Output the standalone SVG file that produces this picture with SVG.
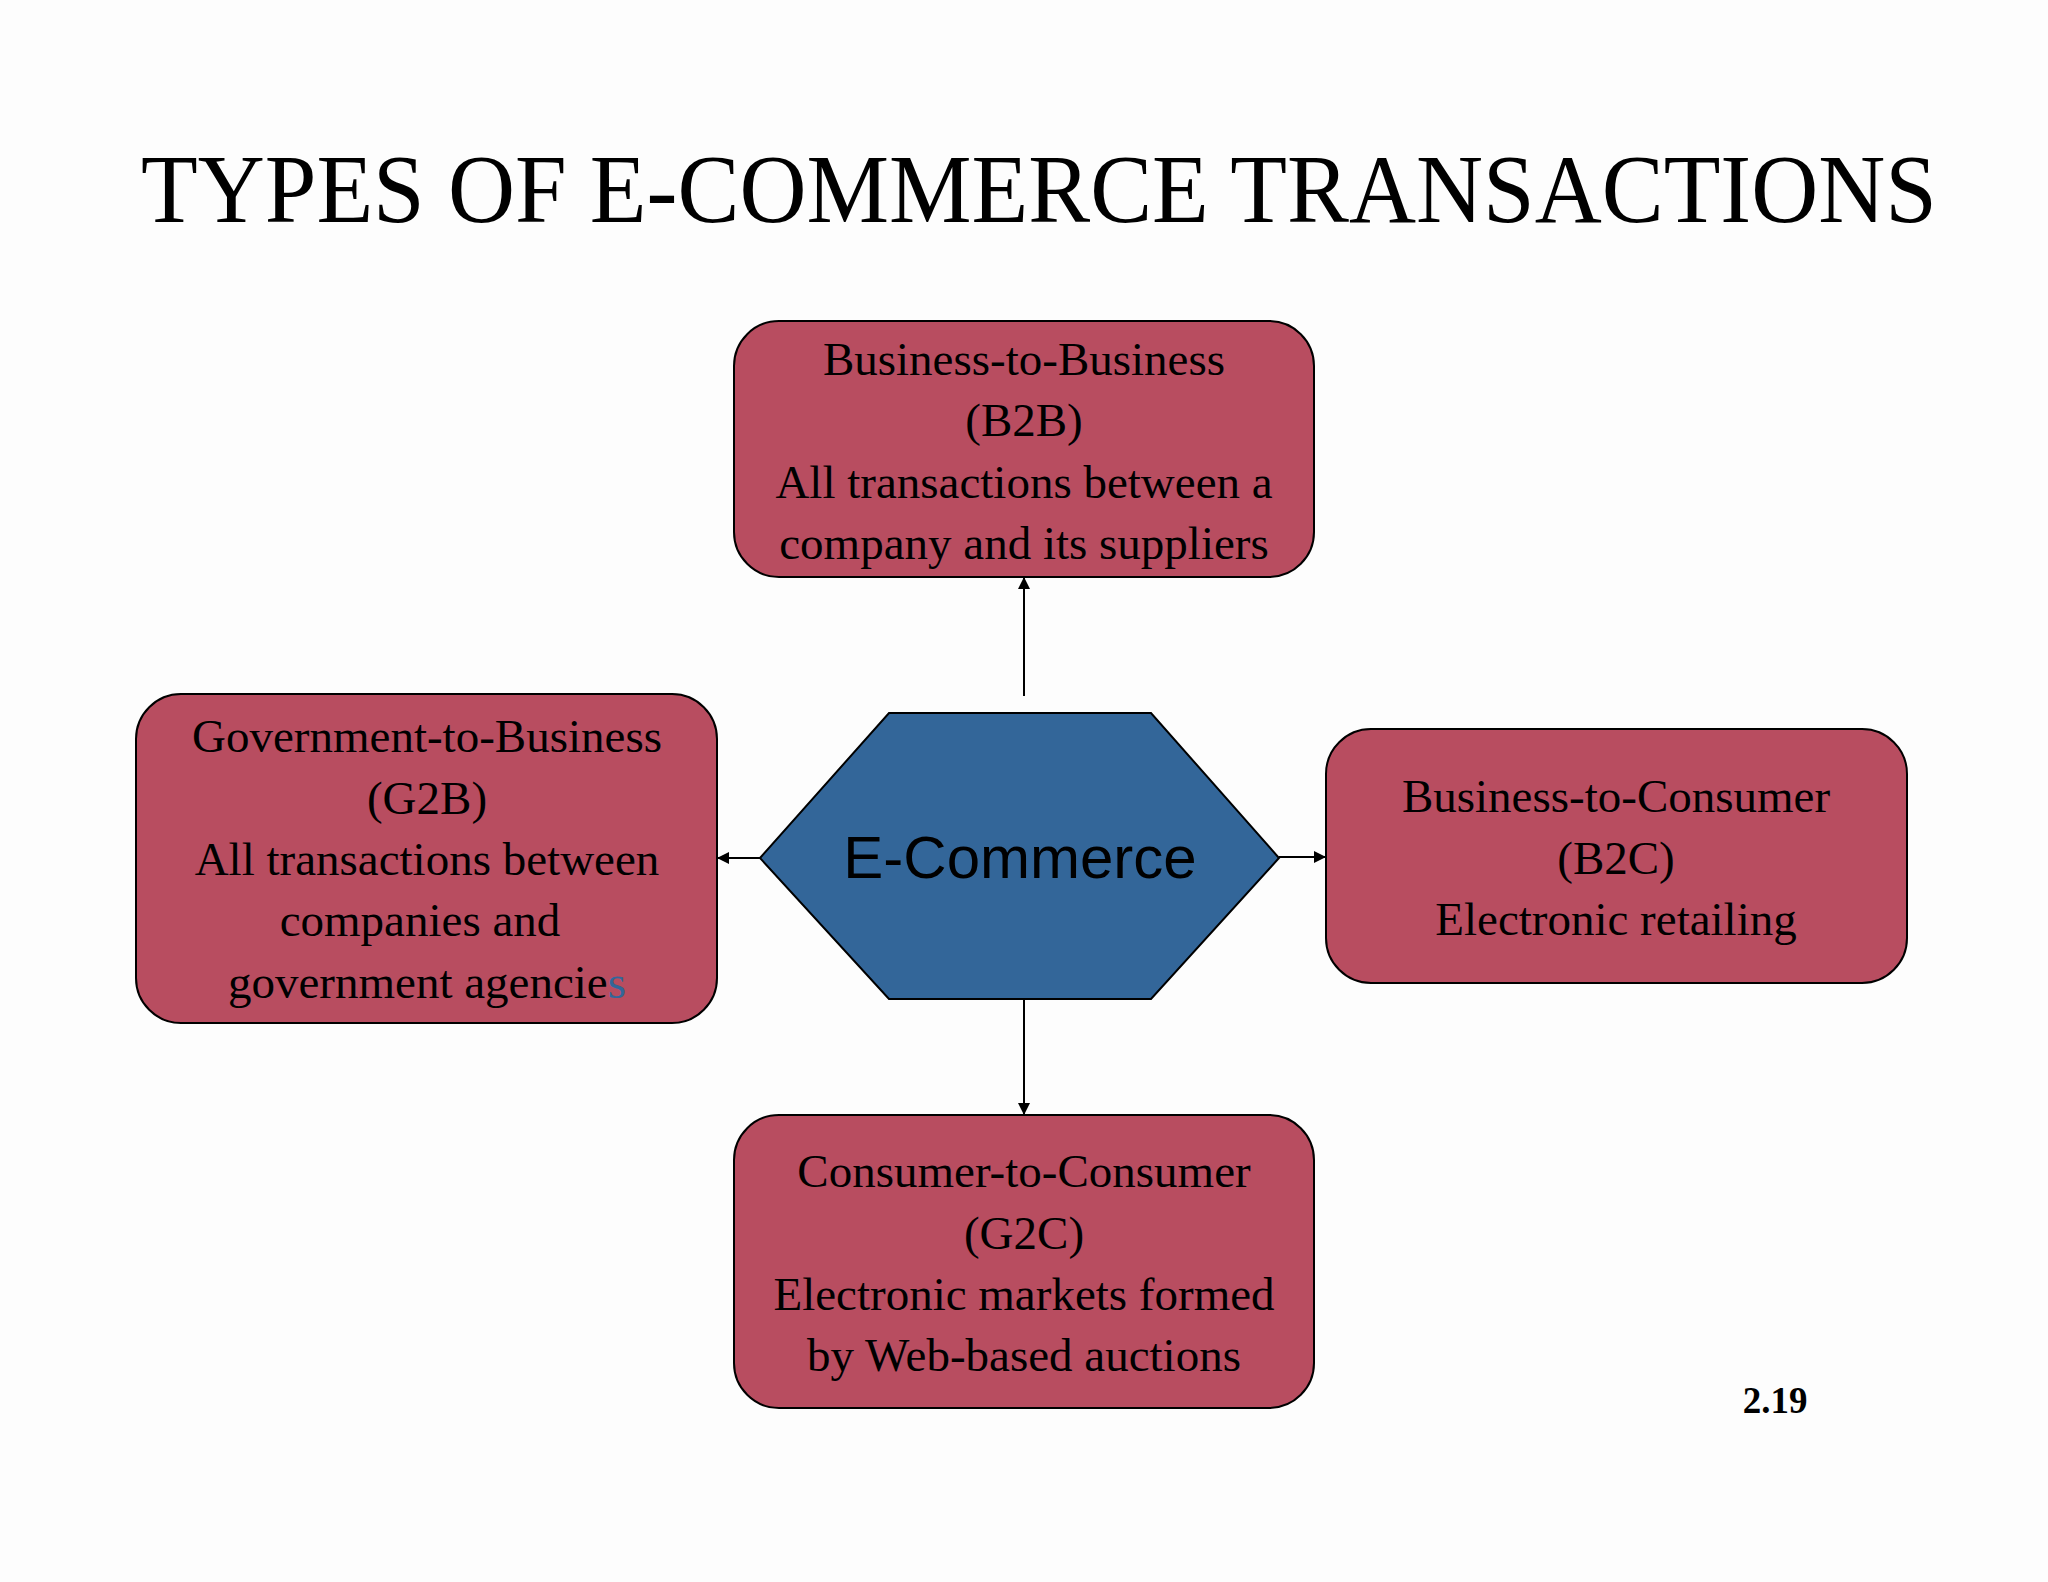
<svg xmlns="http://www.w3.org/2000/svg" width="2048" height="1582" viewBox="0 0 2048 1582">
<defs>
<style>
.box{fill:#B84D60;stroke:#000;stroke-width:2}
.t{font-family:"Liberation Serif",serif;font-size:47px;fill:#000;text-anchor:middle}
.c{stroke:#000;stroke-width:2;fill:none;marker-end:url(#ah)}
</style>
<marker id="ah" viewBox="0 0 10 10" refX="10" refY="5" markerWidth="6" markerHeight="6" orient="auto"><path d="M0,0L10,5L0,10z" fill="#000"/></marker>
</defs>
<rect width="2048" height="1582" fill="#fdfdfd"/>
<text x="1039" y="222" font-family="Liberation Serif,serif" font-size="98" text-anchor="middle" textLength="1796" lengthAdjust="spacingAndGlyphs">TYPES OF E-COMMERCE TRANSACTIONS</text>
<g id="connectors">
<line class="c" x1="1024" y1="696" x2="1024" y2="577"/>
<line class="c" x1="760" y1="858" x2="717" y2="858"/>
<line class="c" x1="1279" y1="857" x2="1326" y2="857"/>
<line class="c" x1="1024" y1="977" x2="1024" y2="1115"/>
</g>
<g id="ecommerce">
<polygon points="760,858 889,713 1151,713 1279,858 1151,999 889,999" fill="#336699" stroke="#000" stroke-width="2"/>
<text x="1020" y="878" font-family="Liberation Sans,sans-serif" font-size="60" text-anchor="middle">E-Commerce</text>
</g>
<g id="b2b">
<rect class="box" x="734" y="321" width="580" height="256" rx="45"/>
<text class="t" x="1024" y="375">Business-to-Business</text>
<text class="t" x="1024" y="436">(B2B)</text>
<text class="t" x="1024" y="498">All transactions between a</text>
<text class="t" x="1024" y="559">company and its suppliers</text>
</g>
<g id="g2b">
<rect class="box" x="136" y="694" width="581" height="329" rx="45"/>
<text class="t" x="427" y="752">Government-to-Business</text>
<text class="t" x="427" y="814">(G2B)</text>
<text class="t" x="427" y="875">All transactions between</text>
<text class="t" x="420" y="936">companies and</text>
<text class="t" x="427" y="998">government agencie<tspan fill="#336699">s</tspan></text>
</g>
<g id="b2c">
<rect class="box" x="1326" y="729" width="581" height="254" rx="45"/>
<text class="t" x="1616" y="812">Business-to-Consumer</text>
<text class="t" x="1616" y="874">(B2C)</text>
<text class="t" x="1616" y="935">Electronic retailing</text>
</g>
<g id="c2c">
<rect class="box" x="734" y="1115" width="580" height="293" rx="45"/>
<text class="t" x="1024" y="1187">Consumer-to-Consumer</text>
<text class="t" x="1024" y="1249">(G2C)</text>
<text class="t" x="1024" y="1310">Electronic markets formed</text>
<text class="t" x="1024" y="1371">by Web-based auctions</text>
</g>
<text x="1775" y="1413" font-family="Liberation Serif,serif" font-size="37" font-weight="bold" text-anchor="middle">2.19</text>
</svg>
